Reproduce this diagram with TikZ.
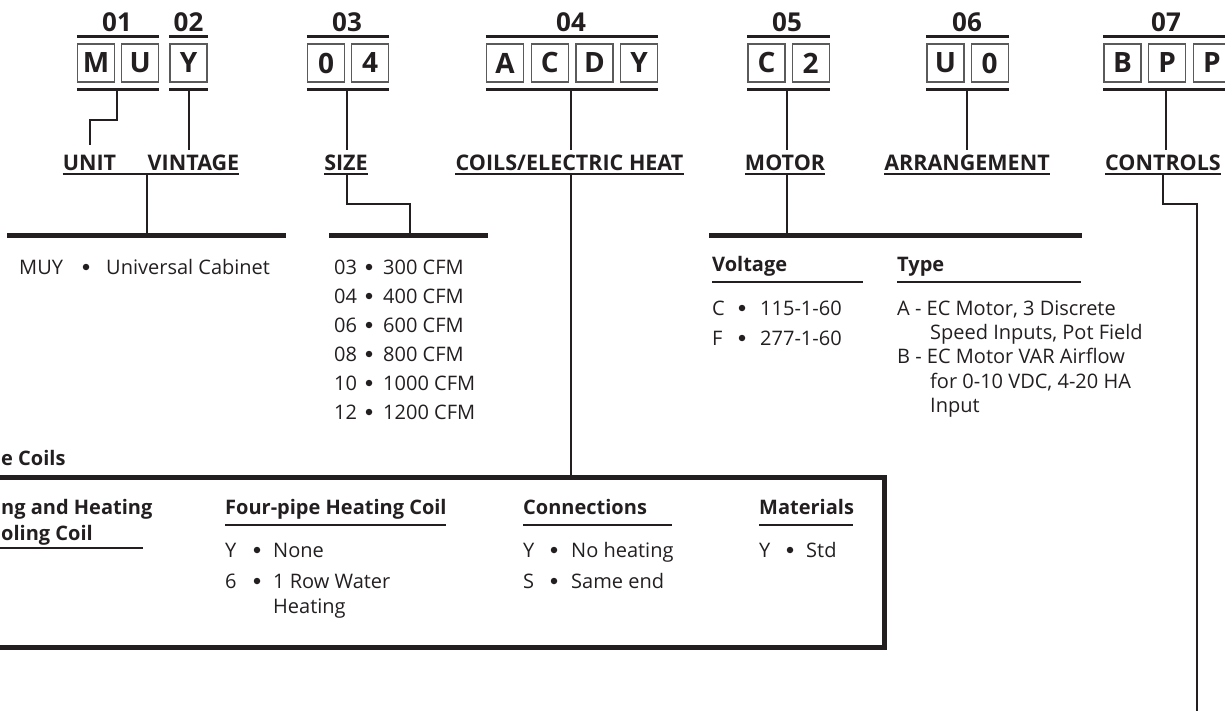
\documentclass[tikz,border=0pt]{standalone}
\usepackage{fontspec}
\setmainfont{Open Sans}
\usetikzlibrary{positioning}
\definecolor{ink}{HTML}{231F20}
\definecolor{boxgray}{HTML}{5A5A5A}

\tikzset{
  charbox/.style={draw=boxgray, line width=1.2pt, minimum width=37pt, minimum height=38pt,
    inner sep=0pt, text=ink, font=\fontsize{28}{30}\selectfont\bfseries},
  codenum/.style={anchor=base, inner sep=0pt, text=ink, font=\fontsize{26}{28}\selectfont\bfseries},
  field/.style={anchor=base, inner sep=0pt, text depth=0pt, text=ink,
    font=\fontsize{21.5}{24}\selectfont\bfseries},
  subhead/.style={anchor=base west, inner sep=0pt, text=ink, font=\fontsize{20}{23}\selectfont\bfseries},
  opt/.style={anchor=base west, inner sep=0pt, text=ink, font=\fontsize{20}{23}\selectfont},
  dot/.style={circle, fill=ink, inner sep=0pt, minimum size=6.5pt},
  headrule/.style={ink, line width=3pt},
  link/.style={ink, line width=2pt},
  bar/.style={ink, line width=5pt},
  subrule/.style={ink, line width=1.3pt}
}

\begin{document}
\begin{tikzpicture}[x=1pt,y=-1pt]
  \useasboundingbox (0,0) rectangle (1225,711);
  \clip (0,0) rectangle (1225,711);

  % code boxes
  \node[charbox] (m1) at (96,63) {M};
  \node[charbox, right=6pt of m1] (m2) {U};
  \node[charbox] (v1) at (188.5,63) {Y};
  \node[charbox] (s1) at (326,63) {0};
  \node[charbox, right=6pt of s1] (s2) {4};
  \node[charbox] (c1) at (505,63) {A};
  \node[charbox, right=6.5pt of c1] (c2) {C};
  \node[charbox, right=6.5pt of c2] (c3) {D};
  \node[charbox, right=6.5pt of c3] (c4) {Y};
  \node[charbox] (o1) at (766.5,63) {C};
  \node[charbox, right=6pt of o1] (o2) {2};
  \node[charbox] (a1) at (945.5,63) {U};
  \node[charbox, right=6pt of a1] (a2) {0};
  \node[charbox] (t1) at (1122.5,63) {B};
  \node[charbox, right=6.5pt of t1] (t2) {P};
  \node[charbox, right=6.5pt of t2] (t3) {P};

  % rules above and below each group
  \foreach \l/\r in {m1/m2, v1/v1, s1/s2, c1/c4, o1/o2, a1/a2, t1/t3}{
    \draw[headrule] ([yshift=7pt]\l.north west) -- ([yshift=7pt]\r.north east);
    \draw[headrule] ([yshift=-7pt]\l.south west) -- ([yshift=-7pt]\r.south east);
  }

  % group numbers
  \node[codenum] (n01) at (117,32) {01};
  \node[codenum] (n02) at (188.5,32) {02};
  \node[codenum] (n03) at (347,32) {03};
  \node[codenum] (n04) at (571,32) {04};
  \node[codenum] (n05) at (787,32) {05};
  \node[codenum] (n06) at (967,32) {06};
  \node[codenum] (n07) at (1166,32) {07};

  % field names
  \node[field] (unit) at (89.5,171) {UNIT};
  \node[field] (vintage) at (193.5,171) {VINTAGE};
  \node[field] (size) at (346,171) {SIZE};
  \node[field] (coils) at (569.5,171) {COILS/ELECTRIC HEAT};
  \node[field] (motor) at (785,171) {MOTOR};
  \node[field] (arrange) at (967,171) {ARRANGEMENT};
  \node[field] (controls) at (1163,171) {CONTROLS};
  \draw[link] ([yshift=-3pt]unit.base west) -- ([yshift=-3pt]vintage.base east);
  \foreach \f in {size, coils, motor, arrange, controls}
    \draw[link] ([yshift=-3pt]\f.base west) -- ([yshift=-3pt]\f.base east);

  % links from codes to names
  \coordinate (g01) at (117,89);
  \draw[link] (g01) -- ++(0,31) -| ([yshift=10pt]unit.north);
  \draw[link] (188.5,89) -- (188.5,150);
  \draw[link] (347,89) -- (347,150);
  \draw[link] (571,89) -- (571,150);
  \draw[link] (787,89) -- (787,150);
  \draw[link] (967,89) -- (967,150);
  \draw[link] (1166,89) -- (1166,150);

  % option bars
  \coordinate (bar1) at (147,236);
  \coordinate (bar2) at (410,236);
  \coordinate (bar3) at (787,236);
  \draw[bar] (7,236) -- (286,236);
  \draw[bar] (329,236) -- (488,236);
  \draw[bar] (709,236) -- (1082,236);
  \draw[link] (147,174) -- (bar1);
  \draw[link] (347,174) |- (410,204) -- (bar2);
  \draw[link] (787,174) -- (bar3);
  \draw[link] (1163,174) |- (1197,204) -- (1197,711);

  % unit
  \node[opt] (muy) at (19,274) {MUY};
  \node[dot] at (86,267) {};
  \node[opt] at (106,274) {Universal Cabinet};

  % size
  \foreach \c/\v [count=\i from 0] in {03/300,04/400,06/600,08/800,10/1000,12/1200}{
    \node[opt] (sz\c) at (334,274+29*\i) {\c};
    \node[dot] at (369,267+29*\i) {};
    \node[opt] at (383,274+29*\i) {\v\ CFM};
  }

  % motor
  \node[subhead] (volt) at (712,272) {Voltage};
  \node[subhead] (type) at (897,272) {Type};
  \draw[subrule] (712,282) -- (863,282);
  \draw[subrule] (897,282) -- (1081,282);
  \foreach \c/\v [count=\i from 0] in {C/115-1-60, F/277-1-60}{
    \node[opt] at (712,315+30*\i) {\c};
    \node[dot] at (742,308+30*\i) {};
    \node[opt] at (760,315+30*\i) {\v};
  }
  \node[opt] (ta) at (897,315) {A - EC Motor, 3 Discrete};
  \node[opt] at (930,339) {Speed Inputs, Pot Field};
  \node[opt] (tb) at (897,363) {B - EC Motor VAR Airflow};
  \node[opt] at (930,388) {for 0-10 VDC, 4-20 HA};
  \node[opt] at (930,412) {Input};

  % coils
  \draw[link] (571,174) -- (571,477);
  \draw[bar] (-20,477) rectangle (884,647);
  \node[subhead] (pipe) at (1,465) {e Coils};
  \node[subhead] at (1,514) {ng and Heating};
  \node[subhead] at (1,540) {oling Coil};
  \draw[subrule] (-5,548) -- (143,548);

  \node[subhead] (four) at (225,514) {Four-pipe Heating Coil};
  \draw[subrule] (225,525) -- (446,525);
  \node[opt] at (225,557) {Y};
  \node[dot] at (257,550) {};
  \node[opt] at (273,557) {None};
  \node[opt] at (225,588) {6};
  \node[dot] at (257,581) {};
  \node[opt] at (273,588) {1 Row Water};
  \node[opt] at (273,613) {Heating};

  \node[subhead] (conn) at (523,514) {Connections};
  \draw[subrule] (523,525) -- (672,525);
  \node[opt] at (523,557) {Y};
  \node[dot] at (554,550) {};
  \node[opt] at (571,557) {No heating};
  \node[opt] at (523,588) {S};
  \node[dot] at (554,581) {};
  \node[opt] at (571,588) {Same end};

  \node[subhead] (mat) at (759,514) {Materials};
  \draw[subrule] (759,525) -- (853,525);
  \node[opt] at (759,557) {Y};
  \node[dot] at (790,550) {};
  \node[opt] at (806,557) {Std};
\end{tikzpicture}
\end{document}
